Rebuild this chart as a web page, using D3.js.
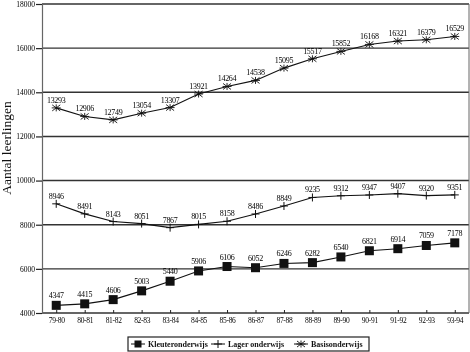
<!DOCTYPE html>
<html>
<head>
<meta charset="utf-8">
<script src="https://cdn.jsdelivr.net/npm/d3@7"></script>
<style>
  body { margin: 0; background: #fff; }
  svg { display: block; font-family: "Liberation Serif", "Times New Roman", serif; will-change: transform; }
</style>
</head>
<body>
<script>
const width = 470;
const height = 352;

const years = ["79-80", "80-81", "81-82", "82-83", "83-84", "84-85", "85-86", "86-87",
               "87-88", "88-89", "89-90", "90-91", "91-92", "92-93", "93-94"];
const kleuter = [4347, 4415, 4606, 5003, 5440, 5906, 6106, 6052, 6246, 6282, 6540, 6821, 6914, 7059, 7178];
const lager = [8946, 8491, 8143, 8051, 7867, 8015, 8158, 8486, 8849, 9235, 9312, 9347, 9407, 9320, 9351];
const basis = [13293, 12906, 12749, 13054, 13307, 13921, 14264, 14538, 15095, 15517, 15852, 16168, 16321, 16379, 16529];
const yTicks = [4000, 6000, 8000, 10000, 12000, 14000, 16000, 18000];

const series = [
  { name: "Kleuteronderwijs", values: kleuter, marker: "square" },
  { name: "Lager onderwijs", values: lager, marker: "plus" },
  { name: "Basisonderwijs", values: basis, marker: "star" }
];

const plotLeft = 42, plotRight = 469, plotTop = 4, plotBottom = 313;

const svg = d3.select("body").append("svg")
  .attr("width", width)
  .attr("height", height);

const x = d3.scalePoint().domain(years).range([plotLeft, plotRight]).padding(0.5);
const y = d3.scaleLinear().domain([4000, 18000]).range([plotBottom, plotTop]);

// grid
svg.append("g").selectAll("line")
  .data(yTicks)
  .enter().append("line")
  .attr("x1", plotLeft).attr("x2", plotRight)
  .attr("y1", d => y(d)).attr("y2", d => y(d))
  .attr("stroke", "#333")
  .attr("stroke-width", 1.4);

// right border
svg.append("line")
  .attr("x1", plotRight).attr("x2", plotRight)
  .attr("y1", plotTop).attr("y2", plotBottom)
  .attr("stroke", "#666").attr("stroke-width", 1);

// y axis
const yAxis = svg.append("g")
  .attr("transform", `translate(${plotLeft},0)`)
  .call(d3.axisLeft(y).tickValues(yTicks).tickSize(6).tickPadding(1).tickFormat(d3.format("d")));
yAxis.select(".domain").attr("stroke", "#666").attr("stroke-width", 1.2);
yAxis.selectAll(".tick line").attr("stroke", "#222").attr("stroke-width", 1.2);
yAxis.selectAll("text")
  .attr("font-size", 7.5).attr("font-family", "Liberation Serif").attr("fill", "#000");

// x axis
const xAxis = svg.append("g")
  .attr("transform", `translate(0,${plotBottom})`)
  .call(d3.axisBottom(x).tickSize(-3).tickPadding(5));
xAxis.select(".domain").remove();
xAxis.selectAll(".tick line").attr("stroke", "#222");
xAxis.selectAll("text")
  .attr("font-size", 7.5).attr("font-family", "Liberation Serif").attr("fill", "#000")
  .attr("letter-spacing", -0.3);

// y title
svg.append("text")
  .attr("transform", "translate(11,148) rotate(-90)")
  .attr("text-anchor", "middle")
  .attr("font-size", 13.5)
  .attr("fill", "#111")
  .text("Aantal leerlingen");

function drawMarker(g, type) {
  if (type === "square") {
    g.append("rect").attr("x", -4.5).attr("y", -4.5).attr("width", 9).attr("height", 9).attr("fill", "#111");
  } else if (type === "plus") {
    g.append("line").attr("x1", 0).attr("x2", 0).attr("y1", -4).attr("y2", 4).attr("stroke", "#111").attr("stroke-width", 1);
    g.append("line").attr("x1", -4).attr("x2", 4).attr("y1", 0).attr("y2", 0).attr("stroke", "#111").attr("stroke-width", 1);
  } else {
    [[-4, -3, 4, 3], [-4, 3, 4, -3], [0, -3.5, 0, 3.5], [-4.5, 0, 4.5, 0]].forEach(c => {
      g.append("line").attr("x1", c[0]).attr("y1", c[1]).attr("x2", c[2]).attr("y2", c[3])
        .attr("stroke", "#111").attr("stroke-width", 0.9);
    });
  }
}

const line = d3.line()
  .x((d, i) => x(years[i]))
  .y(d => y(d));

series.forEach(s => {
  svg.append("path")
    .datum(s.values)
    .attr("d", line)
    .attr("fill", "none")
    .attr("stroke", "#111")
    .attr("stroke-width", 1.1);

  const pts = svg.append("g").selectAll("g")
    .data(s.values)
    .enter().append("g")
    .attr("transform", (d, i) => `translate(${x(years[i])},${y(d)})`);
  pts.each(function() { drawMarker(d3.select(this), s.marker); });

  svg.append("g").selectAll("text")
    .data(s.values)
    .enter().append("text")
    .attr("x", (d, i) => x(years[i]))
    .attr("y", d => y(d) - (s.marker === "square" ? 7 : 5))
    .attr("text-anchor", "middle")
    .attr("font-size", 8)
    .attr("letter-spacing", -0.3)
    .attr("fill", "#000")
    .text(d => d);
});

// legend
const legend = svg.append("g");
legend.append("rect")
  .attr("x", 128).attr("y", 337).attr("width", 241).attr("height", 14)
  .attr("fill", "#fff").attr("stroke", "#222").attr("stroke-width", 1.2);

const legendX = [131, 211, 294];
series.forEach((s, i) => {
  const g = legend.append("g").attr("transform", `translate(${legendX[i]},344)`);
  g.append("line").attr("x1", 0).attr("x2", 14).attr("y1", 0).attr("y2", 0).attr("stroke", "#111");
  const m = g.append("g").attr("transform", "translate(7,0)");
  drawMarker(m, s.marker);
  if (s.marker === "square") m.select("rect").attr("x", -3.5).attr("y", -3.5).attr("width", 7).attr("height", 7);
  g.append("text")
    .attr("x", 17).attr("y", 2.8)
    .attr("font-size", 8)
    .attr("font-weight", "bold")
    .attr("fill", "#111")
    .text(s.name);
});
</script>
</body>
</html>
